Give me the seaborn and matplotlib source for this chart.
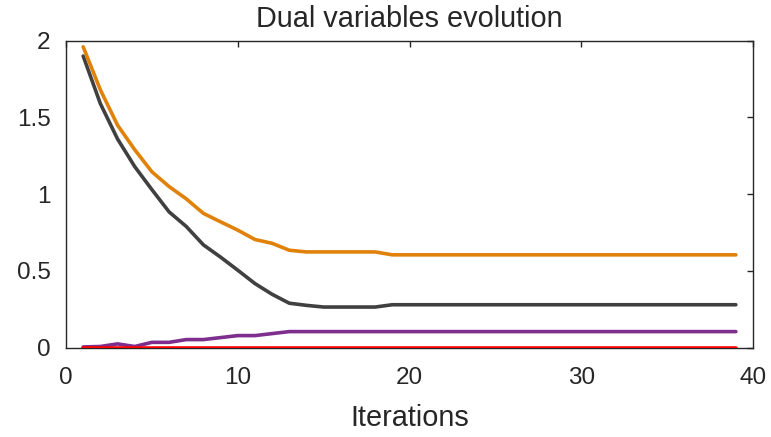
import numpy as np
import pandas as pd
import seaborn as sns
import matplotlib
matplotlib.use("Agg")
import matplotlib.pyplot as plt

iterations = list(range(1, 40))

series_a = [1.90, 1.59, 1.36, 1.18, 1.03, 0.885, 0.79, 0.67, 0.59, 0.505,
            0.418, 0.348, 0.29, 0.276, 0.265, 0.265, 0.265, 0.265] + [0.28] * 21
series_b = [1.96, 1.68, 1.45, 1.29, 1.146, 1.05, 0.97, 0.875, 0.82, 0.766,
            0.705, 0.68, 0.635, 0.624, 0.624, 0.624, 0.624, 0.624] + [0.605] * 21
series_c = [0.005, 0.008, 0.025, 0.008, 0.035, 0.035, 0.053, 0.053, 0.066, 0.079,
            0.079, 0.092, 0.105] + [0.105] * 26
series_d = [0.0] * 39

series_names = ["lambda1", "lambda2", "lambda3", "lambda4"]
colors = ["#404040", "#E0820A", "#7E2F8E", "#FF0000"]

xticks = [0, 10, 20, 30, 40]
xtick_labels = ["0", "10", "20", "30", "40"]
yticks = [0, 0.5, 1, 1.5, 2]
ytick_labels = ["0", "0.5", "1", "1.5", "2"]

title = "Dual variables evolution"
xlabel = "Iterations"

df = pd.DataFrame({
    "Iterations": iterations * 4,
    "value": series_a + series_b + series_c + series_d,
    "series": sum([[n] * len(iterations) for n in series_names], []),
})

sns.set_theme(style="white")
plt.rcParams["font.family"] = ["Liberation Sans", "DejaVu Sans"]

fig = plt.figure(figsize=(7.71, 4.37), dpi=100)
ax = fig.add_axes([0.0856, 0.2043, 0.8911, 0.7026])

sns.lineplot(data=df, x="Iterations", y="value", hue="series",
             hue_order=series_names, palette=colors, linewidth=2.6,
             legend=False, ax=ax)
for ln in ax.lines:
    ln.set_zorder(3)
    ln.set_solid_joinstyle("round")

ax.set_xlim(0, 40)
ax.set_ylim(0, 2)
ax.set_xticks(xticks)
ax.set_xticklabels(xtick_labels)
ax.set_yticks(yticks)
ax.set_yticklabels(ytick_labels)

tc = "#262626"
for s in ax.spines.values():
    s.set_visible(True)
    s.set_color(tc)
    s.set_linewidth(1.0)
    s.set_zorder(2.5)
ax.tick_params(direction="in", length=4, width=1.0, colors=tc,
               top=True, right=True, labelsize=17.5)
ax.tick_params(axis="x", pad=14)
ax.tick_params(axis="y", pad=11)
ax.set_title(title, fontsize=20.8, color=tc, pad=10)
ax.set_xlabel(xlabel, fontsize=20.8, color=tc, labelpad=11)
ax.set_ylabel("")

fig.savefig("out.png", dpi=100)
